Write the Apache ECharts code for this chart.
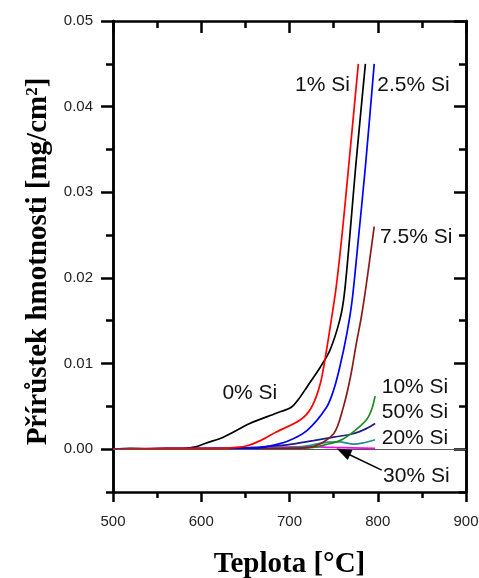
<!DOCTYPE html>
<html>
<head>
<meta charset="utf-8">
<script src="https://cdn.jsdelivr.net/npm/echarts@6/dist/echarts.min.js"></script>
<style>
  html, body { margin: 0; padding: 0; background: #fff; }
  #chart { width: 479px; height: 578px; }
</style>
</head>
<body>
<div id="chart"></div>
<script>
// Mass gain vs. temperature, one curve per Si content: [temperature °C, gain mg/cm²]
const si0  = [[500,0],[520,0.0001],[540,0.00005],[560,0.0001],[580,0.0001],[595,0.0003],[605,0.0007],[625,0.0014],[655,0.003],[685,0.0042],[702,0.0049],[710,0.0058],[720,0.0073],[735,0.0096],[746,0.0116],[757,0.0151],[762,0.018],[768,0.0245],[775,0.033],[786,0.045]];
const si1  = [[500,0],[560,0.0001],[620,0.0001],[640,0.0002],[652,0.0004],[667,0.001],[685,0.002],[712,0.0034],[725,0.0049],[735,0.0077],[742,0.0116],[748,0.0155],[753,0.019],[760,0.0255],[767,0.033],[778,0.045]];
const si25 = [[500,0],[600,0.0001],[660,0.0001],[674,0.0003],[697,0.0009],[720,0.0022],[742,0.0049],[750,0.0069],[757,0.0096],[765,0.0135],[771,0.0174],[778,0.0245],[786,0.033],[796,0.045]];
const si75 = [[500,0],[600,0],[700,0.0001],[727,0.0003],[750,0.0018],[761,0.0049],[769,0.0084],[776,0.0125],[781,0.0152],[786,0.0185],[791,0.0222],[796,0.026]];
const si10 = [[500,0],[650,0],[700,0.0001],[727,0.0002],[740,0.0005],[757,0.001],[772,0.002],[787,0.0034],[793,0.0046],[797,0.0062]];
const si50 = [[500,0],[640,0.0001],[660,0.0002],[697,0.0005],[727,0.001],[750,0.0014],[772,0.0018],[787,0.0024],[797,0.003]];
const si20 = [[500,0],[680,0.0001],[705,0.0002],[720,0.0004],[742,0.0008],[757,0.00085],[765,0.0007],[772,0.0006],[782,0.0007],[797,0.0011]];
const si30 = [[500,0],[640,0.0001],[680,0.0002],[720,0.0003],[750,0.0002],[797,0.0001]];

// Axis ticks
const xMin = 500, xMax = 900, xStep = 100;
const yMajor = [0, 0.01, 0.02, 0.03, 0.04, 0.05];
const yMinor = [-0.005, 0.005, 0.015, 0.025, 0.035, 0.045];
const yMin = -0.005, yMax = 0.05;

// Curve captions, anchored in data coordinates
const captions = [
  { text: '0% Si',   at: [624, 0.0065],  align: 'left'  },
  { text: '1% Si',   at: [768.5, 0.0425], align: 'right' },
  { text: '2.5% Si', at: [799.5, 0.0425], align: 'left'  },
  { text: '7.5% Si', at: [802.5, 0.0247], align: 'left'  },
  { text: '10% Si',  at: [804.5, 0.0072], align: 'left'  },
  { text: '50% Si',  at: [804.5, 0.0043], align: 'left'  },
  { text: '20% Si',  at: [804.5, 0.0013], align: 'left'  },
  { text: '30% Si',  at: [806, -0.0032], align: 'left'  }
];
// Pointer from the "30% Si" caption to its curve
const pointerFrom = [804.5, -0.00245];
const pointerTo = [761, -0.0003];

const black = '#000';
const sans = '"Liberation Sans", Arial, sans-serif';
const serif = '"Liberation Serif", "Times New Roman", serif';

function lineSeries(name, data, color) {
  return {
    name, type: 'line', data, showSymbol: false, smooth: 0.3,
    lineStyle: { color, width: 1.7 }, silent: true, z: 3
  };
}

const axisLineStyle = { show: true, onZero: false, lineStyle: { color: black, width: 2.5 } };

function yAxisDef(position, ticks, len, inside, withLabel) {
  return {
    type: 'value', position, min: yMin, max: yMax,
    axisLine: axisLineStyle,
    axisTick: { show: true, inside, length: len, customValues: ticks, lineStyle: { color: black, width: 2.5 } },
    axisLabel: withLabel ? {
      show: true, customValues: yMajor, fontSize: 15, color: '#222', fontFamily: sans, margin: 20,
      formatter: v => v.toFixed(2)
    } : { show: false },
    splitLine: { show: false },
    minorTick: { show: false }
  };
}

const chart = echarts.init(document.getElementById('chart'), null, { renderer: 'canvas' });

const option = {
  animation: false,
  backgroundColor: '#fff',
  grid: { left: 113, right: 13, top: 21, bottom: 86, containLabel: false, outerBoundsMode: 'none' },
  xAxis: [
    {
      type: 'value', position: 'bottom', min: xMin, max: xMax, interval: xStep,
      axisLine: axisLineStyle,
      axisTick: { show: true, inside: false, length: 10, lineStyle: { color: black, width: 2.5 } },
      minorTick: { show: true, splitNumber: 2, length: 6, lineStyle: { color: black, width: 2.5 } },
      axisLabel: { fontSize: 15, color: '#222', fontFamily: sans, margin: 22 },
      splitLine: { show: false }, minorSplitLine: { show: false },
      name: 'Teplota [°C]', nameLocation: 'middle', nameGap: 58,
      nameTextStyle: { fontFamily: serif, fontWeight: 'bold', fontSize: 29, color: black }
    },
    {
      type: 'value', position: 'top', min: xMin, max: xMax, interval: xStep,
      axisLine: axisLineStyle,
      axisTick: { show: true, inside: true, length: 12, lineStyle: { color: black, width: 2.5 } },
      minorTick: { show: true, splitNumber: 2, length: 7, lineStyle: { color: black, width: 2.5 } },
      axisLabel: { show: false },
      splitLine: { show: false }, minorSplitLine: { show: false }
    }
  ],
  yAxis: [
    Object.assign(yAxisDef('left', yMajor, 12, false, true), {
      name: 'Přírůstek hmotnosti [mg/cm{s|2}]', nameLocation: 'middle', nameGap: 58, nameRotate: 90,
      nameTextStyle: {
        fontFamily: serif, fontWeight: 'bold', fontSize: 29, color: black, padding: [0, 10, 0, 0],
        rich: { s: { fontFamily: serif, fontWeight: 'bold', fontSize: 17, color: black, verticalAlign: 'top', lineHeight: 29 } }
      }
    }),
    yAxisDef('left', yMinor, 7, false, false),
    yAxisDef('right', yMajor, 12, true, false),
    yAxisDef('right', yMinor, 7, true, false)
  ],
  series: [
    {
      name: 'guides', type: 'line', data: [], silent: true, z: 2,
      markLine: {
        silent: true, animation: false,
        label: { show: false },
        data: [
          [{ coord: [xMin, 0], symbol: 'none' }, { coord: [xMax, 0], symbol: 'none', lineStyle: { color: '#555', width: 1.2, type: 'solid' } }],
          [{ coord: pointerFrom, symbol: 'none' }, { coord: pointerTo, symbol: 'triangle', symbolSize: [11, 15], lineStyle: { color: black, width: 1.5, type: 'solid' } }]
        ],
        lineStyle: { type: 'solid' }
      }
    },
    lineSeries('0% Si', si0, '#000000'),
    lineSeries('30% Si', si30, '#ff00ff'),
    lineSeries('20% Si', si20, '#1f8f8f'),
    lineSeries('50% Si', si50, '#1c1c8c'),
    lineSeries('10% Si', si10, '#1f8a1f'),
    lineSeries('7.5% Si', si75, '#8b1a1a'),
    lineSeries('2.5% Si', si25, '#0000ff'),
    lineSeries('1% Si', si1, '#ff0000')
  ]
};

chart.setOption(option);

// Captions placed through the axis scales
const graphic = captions.map(c => {
  const p = chart.convertToPixel({ xAxisIndex: 0, yAxisIndex: 0 }, c.at);
  return {
    type: 'text', x: p[0], y: p[1], z: 10, silent: true,
    style: {
      text: c.text, fill: '#111', font: '21px ' + sans,
      align: c.align, verticalAlign: 'middle',
      textAlign: c.align, textVerticalAlign: 'middle'
    }
  };
});
chart.setOption({ graphic });
</script>
</body>
</html>
